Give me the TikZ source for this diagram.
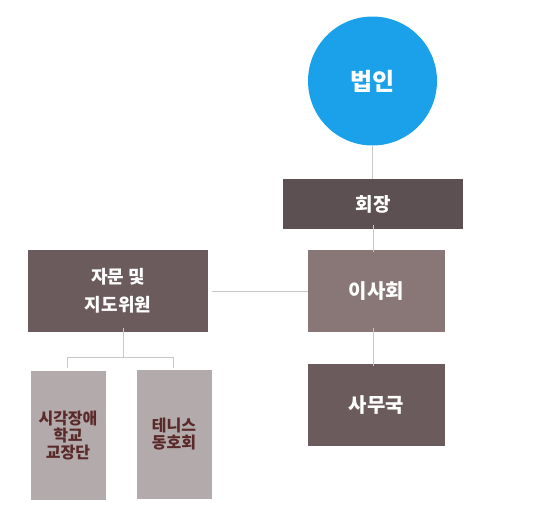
\documentclass[tikz,border=0pt]{standalone}
\usepackage{fontspec}
\setmainfont{Noto Sans CJK KR}
\definecolor{cblue}{HTML}{1BA1E9}
\definecolor{cdark}{HTML}{5D5052}
\definecolor{cmid}{HTML}{897676}
\definecolor{cbox}{HTML}{6B5B5D}
\definecolor{clight}{HTML}{B3AAAB}
\definecolor{ctext}{HTML}{5A2A2A}
\definecolor{cline}{HTML}{C8C8C8}
\tikzset{
  box/.style={rectangle, inner sep=0pt, outer sep=0pt, text=white, font=\bfseries},
  conn/.style={draw=cline, line width=0.8pt},
}
\begin{document}
\begin{tikzpicture}[x=1pt,y=-1pt]
\useasboundingbox (0,0) rectangle (539,512);
\node[circle, fill=cblue, minimum size=129pt, inner sep=0pt, text=white, font=\bfseries\fontsize{24}{28}\selectfont] (corp) at (372.5,81) {법인};
\node[box, fill=cdark, minimum width=180pt, minimum height=50pt, font=\bfseries\fontsize{19}{22}\selectfont] (chair) at (373,204) {회장};
\node[box, fill=cmid, minimum width=137pt, minimum height=82pt, font=\bfseries\fontsize{20}{24}\selectfont] (board) at (376.5,291) {이사회};
\node[box, fill=cbox, minimum width=137pt, minimum height=82pt, font=\bfseries\fontsize{20}{24}\selectfont] (office) at (376.5,405) {사무국};
\node[box, fill=cbox, minimum width=180pt, minimum height=82pt, align=center, font=\bfseries\fontsize{18}{28}\selectfont] (adv) at (118,291) {자문 및\\지도위원};
\node[box, fill=clight, text=ctext, minimum width=75pt, minimum height=129pt, align=center, font=\bfseries\fontsize{16}{17}\selectfont] (school) at (68,435.5) {시각장애\\학교\\교장단};
\node[box, fill=clight, text=ctext, minimum width=75pt, minimum height=129pt, align=center, font=\bfseries\fontsize{16}{17}\selectfont] (tennis) at (174,434.5) {테니스\\동호회};
\coordinate (j1) at (123.3,357.3);
\coordinate (jl) at (67.7,357.3);
\coordinate (jr) at (173.3,357.3);
\draw[conn] (corp.south) -- (corp.south |- chair.north);
\draw[conn] ([yshift=4pt]chair.south) -- ([yshift=-2pt]chair.south |- board.north);
\draw[conn] ([yshift=4pt]board.south -| chair.south) -- ([yshift=-2pt]chair.south |- office.north);
\draw[conn] ([xshift=4pt]adv.east) -- (board.west);
\draw[conn] ([yshift=4pt]adv.south -| j1) -- (j1);
\draw[conn] (jl) -- (jr);
\draw[conn] (jl) -- ++(0,10.4);
\draw[conn] (jr) -- ++(0,10.4);
\end{tikzpicture}
\end{document}
